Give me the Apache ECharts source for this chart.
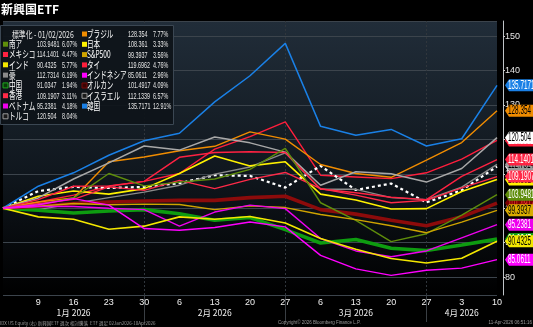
<!DOCTYPE html>
<html>
<head>
<meta charset="utf-8">
<script src="https://cdn.jsdelivr.net/npm/echarts@6/dist/echarts.min.js"></script>
<style>
html,body{margin:0;padding:0;background:#000;}
#chart{width:533px;height:327px;}
</style>
</head>
<body>
<div id="chart"></div>
<script>
// Weekly closes, normalised to 100 on 01/02/2026
const dates = ['01/02','01/09','01/16','01/23','01/30','02/06','02/13','02/20','02/27','03/06','03/13','03/20','03/27','04/03','04/10'];
const monthLabels = ['1月 2026','2月 2026','3月 2026','4月 2026'];
const monthLabelIndex = [2, 6, 10, 13];
const monthBreakIndex = [4, 8, 12];

const southAfrica = [100, 101.0, 103.0, 110.1, 106.5, 107.6, 108.5, 111.3, 117.4, 101.6, 96.5, 90.3, 92.6, 98.0, 103.9481];
const mexico      = [100, 102.5, 106.4, 106.5, 107.8, 114.8, 116.2, 116.4, 116.2, 105.6, 104.5, 103.2, 102.5, 109.26, 114.1401];
const india       = [100, 97.5, 96.8, 93.9, 94.8, 97.5, 96.8, 97.6, 95.7, 91.2, 88.1, 85.4, 84.1, 85.5, 90.4325];
const australia   = [100, 99.6, 101.4, 103.1, 104.7, 106.7, 109.9, 112.0, 116.1, 105.5, 105.5, 103.1, 102.5, 106.16, 112.7314];
const china       = [100, 99.4, 98.6, 99.2, 99.6, 98.4, 96.5, 97.3, 93.8, 89.9, 90.9, 88.4, 87.7, 89.3, 91.0347];
const hongKong    = [100, 101.3, 102.6, 106.2, 105.2, 108.1, 105.7, 108.4, 110.4, 105.7, 103.8, 101.6, 102.3, 105.9, 109.1907];
const vietnam     = [100, 100.5, 100.5, 100.0, 99.6, 94.8, 98.9, 100.9, 99.9, 91.2, 87.6, 85.9, 87.6, 91.42, 95.2381];
const turkey      = [100, 103.0, 108.5, 113.2, 118.1, 116.9, 120.7, 119.0, 116.3, 106.7, 110.6, 110.0, 107.6, 111.54, 120.504];
const brazil      = [100, 101.8, 103.0, 113.5, 114.9, 116.7, 118.0, 122.2, 120.1, 112.7, 110.1, 109.0, 114.0, 119.1, 128.354];
const japan       = [100, 103.5, 105.0, 104.1, 105.7, 110.1, 115.2, 112.3, 113.5, 104.1, 102.4, 99.8, 99.9, 104.87, 108.361];
const sp500       = [100, 100.6, 101.4, 101.0, 101.2, 101.1, 99.6, 100.7, 100.2, 98.2, 96.7, 94.9, 92.9, 95.98, 99.3937];
const thailand    = [100, 101.8, 103.8, 106.4, 107.8, 110.1, 117.2, 120.8, 125.1, 109.6, 109.1, 108.6, 110.3, 114.26, 119.6962];
const indonesia   = [100, 101.0, 102.8, 100.9, 94.1, 93.6, 94.4, 96.0, 94.6, 86.3, 82.4, 80.5, 82.0, 82.62, 85.0611];
const allCountry  = [100, 100.6, 101.4, 101.8, 102.1, 102.3, 102.3, 103.1, 103.5, 99.6, 98.3, 96.5, 94.9, 97.5, 101.4917];
const israel      = [100, 105.0, 106.2, 105.9, 106.2, 107.3, 109.6, 109.4, 106.0, 112.3, 105.3, 107.2, 101.7, 105.22, 112.1339];
const korea       = [100, 106.4, 110.3, 115.4, 119.6, 121.8, 130.9, 138.5, 147.9, 123.8, 121.2, 122.9, 118.1, 120.2, 135.7171];

// Legend columns and last-week change
const legendLeft  = ['南ア','メキシコ','インド','豪','中国','香港','ベトナム','トルコ'];
const legendRight = ['ブラジル','日本','S&P500','タイ','インドネシア','オルカン','イスラエル','韓国'];
const weeklyChange = {
  '南ア':'6.07%','メキシコ':'4.47%','インド':'5.77%','豪':'6.19%','中国':'1.94%','香港':'3.11%','ベトナム':'4.18%','トルコ':'8.04%',
  'ブラジル':'7.77%','日本':'3.33%','S&P500':'3.56%','タイ':'4.76%','インドネシア':'2.96%','オルカン':'4.09%','イスラエル':'6.57%','韓国':'12.91%'
};

const values = {
  '南ア':southAfrica,'メキシコ':mexico,'インド':india,'豪':australia,'中国':china,'香港':hongKong,'ベトナム':vietnam,'トルコ':turkey,
  'ブラジル':brazil,'日本':japan,'S&P500':sp500,'タイ':thailand,'インドネシア':indonesia,'オルカン':allCountry,'イスラエル':israel,'韓国':korea
};

// line colour, width, tag colours, legend swatch
const looks = {
  '南ア':        {c:'#5f8d0b', w:1.4, tag:'#5f8d0b', txt:'#ffffff'},
  'メキシコ':    {c:'#ff2242', w:1.4, tag:'#ff2242', txt:'#ffffff'},
  'インド':      {c:'#f4e800', w:1.6, tag:'#f4e800', txt:'#000000'},
  '豪':          {c:'#8a8a8a', w:1.4, tag:'#9a9a9a', txt:'#000000'},
  '中国':        {c:'#0e9c10', w:3.6, tag:'#0e9c10', txt:'#ffffff', icon:{fill:'#0a3a0a', stroke:'#1fa81f'}},
  '香港':        {c:'#ff2a48', w:1.4, tag:'#ff2a48', txt:'#ffffff'},
  'ベトナム':    {c:'#ee00ee', w:1.4, tag:'#ee00ee', txt:'#ffffff'},
  'トルコ':      {c:'#a8a8a8', w:1.5, tag:'#ffffff', txt:'#000000', icon:{fill:'#1a1a1a', stroke:'#9a9a9a'}},
  'ブラジル':    {c:'#f08c00', w:1.4, tag:'#f08c00', txt:'#000000'},
  '日本':        {c:'#fff200', w:1.6, tag:'#fff200', txt:'#000000'},
  'S&P500':      {c:'#cfa300', w:1.4, tag:'#d8ab00', txt:'#000000'},
  'タイ':        {c:'#ff1e3c', w:1.4, tag:'#ff1e3c', txt:'#ffffff'},
  'インドネシア':{c:'#ff00ff', w:1.4, tag:'#ff00ff', txt:'#ffffff'},
  'オルカン':    {c:'#8c0b0b', w:3.6, tag:'#7a0000', txt:'#ff3a3a', icon:{fill:'#3a0505', stroke:'#7a0a0a'}},
  'イスラエル':  {c:'#ffffff', w:2.2, dash:[3,3], tag:'#e8e8e8', txt:'#000000', icon:{fill:'#1a1a1a', stroke:'#9a9a9a'}},
  '韓国':        {c:'#1a80e6', w:1.5, tag:'#1a80e6', txt:'#ffffff'}
};

// later entries are painted on top (lines and value tags)
const drawOrder = ['タイ','イスラエル','豪','日本','中国','オルカン','韓国','ブラジル','トルコ','メキシコ','香港','南ア','S&P500','ベトナム','インド','インドネシア'];

const sans = '"Liberation Sans", Arial, sans-serif';
const jp = '"Noto Sans CJK JP", "Noto Sans", sans-serif';
const last = dates.length - 1;

const lineSeries = drawOrder.map(name => {
  const l = looks[name];
  return {
    name: name,
    type: 'line',
    data: values[name],
    symbol: 'none',
    z: 2,
    lineStyle: {color: l.c, width: l.w, type: l.dash || 'solid'},
    itemStyle: {color: l.c},
    emphasis: {disabled: true}
  };
});

// value tags at the right end of every line, pointing at the last close
const tagSeries = {
  type: 'custom',
  z: 6,
  clip: false,
  silent: true,
  data: drawOrder.map(name => [last, values[name][last]]),
  renderItem: (params, api) => {
    const name = drawOrder[params.dataIndex];
    const l = looks[name];
    const p = api.coord([api.value(0), api.value(1)]);
    const x0 = p[0] + 8, y = p[1], h = 6;
    return {
      type: 'group',
      children: [
        {
          type: 'polygon',
          shape: {points: [[x0, y], [x0 + 4, y - h], [x0 + 44, y - h], [x0 + 44, y + h], [x0 + 4, y + h]]},
          style: {fill: l.tag}
        },
        {
          type: 'text', x: x0 + 3, y: y + 0.5, scaleX: 0.53,
          style: {text: String(api.value(1)), fill: l.txt, font: '12px ' + sans, verticalAlign: 'middle', align: 'left'}
        }
      ]
    };
  }
};

// legend box drawn as graphic elements
function legendColumn(names, iconX, nameX, valueX, pctX, firstY) {
  const out = [];
  names.forEach((name, i) => {
    const l = looks[name];
    const cy = firstY + i * 10.3;
    const ic = l.icon || {fill: l.c, stroke: null};
    out.push({type: 'rect', z: 10, shape: {x: iconX, y: cy - 2.5, width: 5, height: 5},
      style: {fill: ic.fill, stroke: ic.stroke, lineWidth: ic.stroke ? 1 : 0}});
    out.push({type: 'text', z: 10, x: nameX, y: cy, scaleX: 0.66,
      style: {text: name, fill: '#ffffff', font: '10px ' + jp, verticalAlign: 'middle'}});
    const v = values[name];
    out.push({type: 'text', z: 10, x: valueX, y: cy + 0.5, scaleX: 0.6,
      style: {text: String(v[v.length - 1]), fill: '#e4e4e4', font: '9px ' + sans, verticalAlign: 'middle'}});
    out.push({type: 'text', z: 10, x: pctX, y: cy + 0.5, scaleX: 0.6,
      style: {text: weeklyChange[name], fill: '#e4e4e4', font: '9px ' + sans, verticalAlign: 'middle'}});
  });
  return out;
}

const legendGraphics = [
  {type: 'rect', z: 9, shape: {x: 0.5, y: 25.5, width: 173, height: 99},
    style: {fill: 'rgba(14,19,25,0.92)', stroke: '#3b4753', lineWidth: 1}},
  {type: 'text', z: 10, x: 12, y: 34, scaleX: 0.72,
    style: {text: '標準化 - 01/02/2026', fill: '#e8e8e8', font: '9.5px ' + jp, verticalAlign: 'middle'}}
].concat(
  legendColumn(legendLeft, 3, 9, 37, 62, 44.2),
  legendColumn(legendRight, 82, 87, 128, 153, 34)
);

const footer = [
  {type: 'text', z: 10, x: 0, y: 323,
    style: {text: 'IDX US Equity (右) 新興国ETF 週次 相対騰落  ETF 週足 02Jan2026-10Apr2026', fill: '#9a9a9a', font: '4.5px ' + jp, verticalAlign: 'middle'}},
  {type: 'text', z: 10, x: 278, y: 323,
    style: {text: 'Copyright© 2026 Bloomberg Finance L.P.', fill: '#9a9a9a', font: '4.5px ' + sans, verticalAlign: 'middle'}},
  {type: 'text', z: 10, x: 532, y: 323,
    style: {text: '11-Apr-2026 06:51:16', fill: '#9a9a9a', font: '4.5px ' + sans, verticalAlign: 'middle', align: 'right'}}
];

const chart = echarts.init(document.getElementById('chart'), null, {renderer: 'canvas'});
chart.setOption({
  animation: false,
  backgroundColor: '#000000',
  grid: {
    left: 0, right: 36, top: 21, bottom: 32,
    show: true, borderWidth: 0,
    backgroundColor: new echarts.graphic.LinearGradient(0, 0, 0, 1, [
      {offset: 0, color: '#212d39'},
      {offset: 0.55, color: '#10171e'},
      {offset: 1, color: '#000000'}
    ])
  },
  title: {
    text: '新興国ETF', left: 1, top: 3, padding: 0,
    textStyle: {color: '#ffffff', fontFamily: jp, fontSize: 12, fontWeight: 'bold'}
  },
  graphic: legendGraphics.concat(footer),
  xAxis: [
    {
      type: 'category', data: dates, boundaryGap: false,
      axisLine: {show: false},
      axisTick: {show: false},
      axisLabel: {
        interval: 0, margin: 3,
        color: '#f0f0f0', fontFamily: sans, fontSize: 9,
        formatter: (v, i) => i === 0 ? '' : String(parseInt(v.split('/')[1], 10))
      },
      splitLine: {
        show: true,
        interval: (i) => monthBreakIndex.indexOf(i) >= 0,
        lineStyle: {color: '#30363c', type: [2, 2], width: 1}
      }
    },
    {
      type: 'category', data: dates, boundaryGap: false, position: 'bottom',
      axisLine: {show: false},
      axisTick: {
        show: true, length: 27,
        interval: (i) => monthBreakIndex.indexOf(i) >= 0,
        lineStyle: {color: '#3a3f44', width: 1}
      },
      axisLabel: {
        interval: 0, margin: 14,
        color: '#f0f0f0', fontFamily: jp, fontSize: 8.5,
        formatter: (v, i) => {
          const k = monthLabelIndex.indexOf(i);
          return k >= 0 ? monthLabels[k] : '';
        }
      },
      splitLine: {show: false}
    }
  ],
  yAxis: {
    type: 'value', position: 'right', offset: 6,
    min: 74.8, max: 154.4, splitNumber: 8,
    axisLine: {show: true, lineStyle: {color: '#bfc4c8', width: 1}},
    axisTick: {show: true, length: 2, inside: false, lineStyle: {color: '#d0d0d0'}},
    axisLabel: {
      showMinLabel: false, showMaxLabel: false, margin: 2,
      color: '#e6e6e6', fontFamily: sans, fontSize: 9
    },
    splitLine: {show: true, lineStyle: {color: '#3c444c', width: 1}}
  },
  series: lineSeries.concat([tagSeries])
});
</script>
</body>
</html>
